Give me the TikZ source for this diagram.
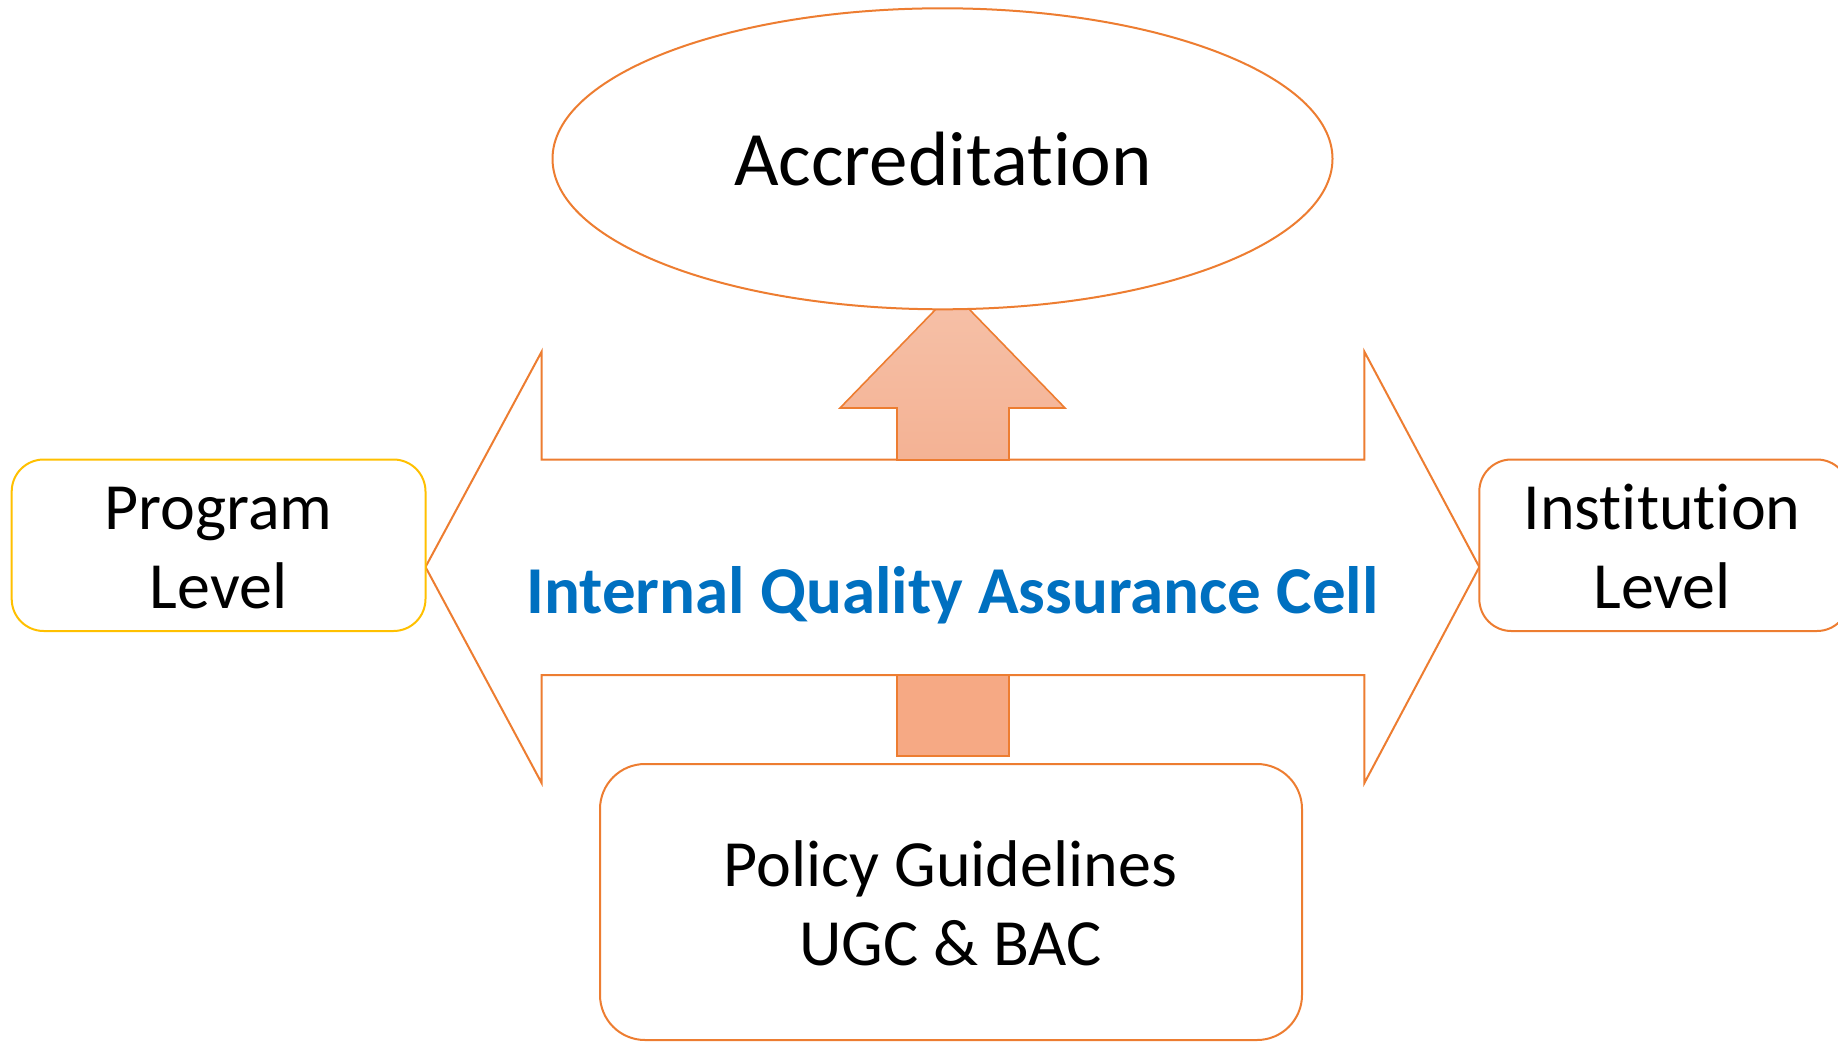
\documentclass[tikz,border=0pt]{standalone}
\usepackage{fontspec}
\setmainfont[Ligatures=NoCommon]{Carlito}
\usetikzlibrary{shapes.geometric}
\definecolor{accent}{HTML}{ED7D31}
\definecolor{gold}{HTML}{FFC000}
\definecolor{iqac}{HTML}{0070C0}
\definecolor{peachtop}{RGB}{246,193,168}
\definecolor{peachbot}{RGB}{244,178,148}
\definecolor{peachstub}{RGB}{246,169,132}

\begin{document}
\begin{tikzpicture}[x=1pt,y=-1pt,
  outline/.style={draw=accent, line width=2pt, line join=miter},
  boxstyle/.style={outline, rounded corners=32pt, fill=white},
  bigtext/.style={font=\fontsize{66}{80}\selectfont, text=black, inner sep=0pt, anchor=base},
]
\useasboundingbox (0,0) rectangle (1838,1041);
\clip (0,0) rectangle (1838,1041);

% two-headed arrow carrying the cell
\draw[outline, fill=white]
  (425.5,567) -- (541.6,351.7) -- (541.6,459.5) -- (1364.4,459.5)
  -- (1364.4,351.7) -- (1479.3,567) -- (1364.4,783) -- (1364.4,675)
  -- (541.6,675) -- (541.6,783) -- cycle;

% upward arrow into the accreditation ellipse
\draw[outline, line width=1.6pt, top color=peachtop, bottom color=peachbot]
  (897,460) -- (897,408) -- (840,408) -- (952.5,292) -- (1065,408)
  -- (1009,408) -- (1009,460) -- cycle;

% stub rising from the policy box
\draw[outline, line width=1.6pt, fill=peachstub] (897,675) rectangle (1009,756);

% accreditation ellipse
\node[ellipse, outline, fill=white, minimum width=780pt, minimum height=301pt, inner sep=0pt]
  (acc) at (942.5,158.8) {};
\node[bigtext, font=\fontsize{77}{92}\selectfont] (acctext) at (943,185) {Accreditation};

% cell title
\node[bigtext, font=\fontsize{67}{80}\selectfont\bfseries, text=iqac] (iqac) at (952.5,613)
  {Internal Quality Assurance Cell};

% program level
\draw[boxstyle, draw=gold] (11.7,459.5) rectangle (425.5,631);
\coordinate (prog) at (218.6,545);
\node[bigtext] (progA) at (218.6,529) {Program};
\node[bigtext] (progB) at (218.6,608) {Level};

% institution level
\draw[boxstyle] (1479.3,459.5) rectangle (1849,631);
\coordinate (inst) at (1664,545);
\node[bigtext] (instA) at (1662,529) {Institution};
\node[bigtext] (instB) at (1662,608) {Level};

% policy guidelines
\draw[boxstyle, rounded corners=45pt] (600,764) rectangle (1302,1040);
\coordinate (policy) at (951,902);
\node[bigtext] (polA) at (950.5,886) {Policy Guidelines};
\node[bigtext] (polB) at (950.5,965) {UGC \& BAC};
\end{tikzpicture}
\end{document}
